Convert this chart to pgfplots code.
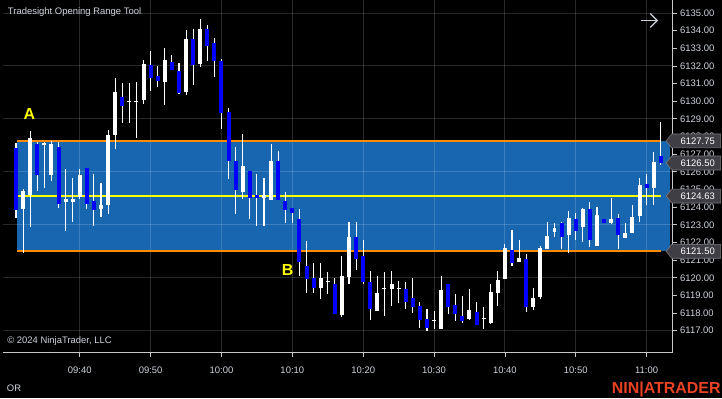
\documentclass[border=0pt]{standalone}
\usepackage{pgfplots}
\pgfplotsset{compat=1.18}
\usepackage{pgfplotstable}
\usepackage{fontspec}
\setmainfont{Liberation Sans}

\definecolor{boxblue}{RGB}{24,102,176}
\definecolor{downblue}{RGB}{0,0,255}
\definecolor{orline}{RGB}{255,140,0}
\definecolor{midline}{RGB}{255,255,0}
\definecolor{axisgray}{RGB}{200,200,200}
\definecolor{labelgray}{RGB}{205,210,220}
\definecolor{tagfill}{RGB}{62,62,68}
\definecolor{tagedge}{RGB}{120,120,125}
\definecolor{ntorange}{RGB}{234,67,35}

\newcommand{\ticksize}{\fontsize{9.5}{11}\selectfont}

% 1-minute bars, m = minutes after 09:30
\pgfplotstableread{
m  o        h        l        c
1  6127.44  6127.68  6123.45  6123.96
2  6123.96  6125.16  6121.53  6124.97
3  6124.69  6128.40  6122.94  6127.95
4  6127.64  6127.70  6124.97  6125.93
5  6127.60  6127.75  6125.16  6127.70
6  6125.93  6127.70  6125.42  6127.64
7  6127.44  6127.70  6123.96  6124.18
8  6124.47  6126.20  6122.72  6124.65
9  6124.47  6125.69  6123.22  6124.65
10 6124.69  6126.20  6124.47  6125.91
11 6126.20  6126.20  6123.96  6124.18
12 6124.45  6125.91  6122.94  6123.96
13 6123.96  6125.42  6123.45  6124.16
14 6124.18  6128.40  6123.68  6128.17
15 6128.19  6131.44  6127.46  6130.65
16 6130.43  6131.16  6128.92  6129.94
17 6130.10  6131.16  6128.92  6130.15
18 6130.05  6131.16  6127.96  6130.10
19 6130.16  6132.40  6129.94  6132.18
20 6132.18  6132.91  6130.65  6131.46
21 6131.46  6132.18  6130.94  6131.16
22 6131.16  6133.19  6129.94  6132.40
23 6132.40  6132.69  6131.80  6131.91
24 6131.91  6132.18  6130.43  6130.65
25 6130.65  6134.13  6130.43  6133.65
26 6133.65  6134.13  6130.94  6132.18
27 6132.18  6134.66  6131.91  6134.13
28 6134.13  6134.42  6132.40  6133.19
29 6133.42  6133.65  6131.44  6132.40
30 6132.40  6132.40  6128.42  6129.43
31 6129.43  6129.70  6125.67  6126.67
32 6126.65  6127.44  6123.68  6124.97
33 6124.97  6128.17  6124.45  6126.42
34 6126.20  6126.20  6123.45  6124.67
35 6124.67  6125.91  6122.94  6124.49
36 6124.49  6125.69  6122.94  6124.67
37 6124.45  6127.63  6124.45  6126.65
38 6126.65  6127.16  6124.45  6124.45
39 6124.45  6124.97  6123.21  6123.96
40 6123.96  6123.96  6123.21  6123.68
41 6123.43  6123.96  6120.18  6120.97
42 6120.67  6122.19  6119.22  6119.97
43 6119.97  6120.95  6119.22  6119.44
44 6119.44  6120.95  6118.93  6119.97
45 6119.85  6120.44  6119.22  6119.90
46 6119.71  6119.97  6117.96  6117.96
47 6117.96  6121.40  6117.96  6120.16
48 6120.16  6123.21  6119.71  6122.42
49 6122.42  6123.21  6120.44  6121.19
50 6121.19  6122.19  6119.71  6119.71
51 6119.71  6120.44  6117.67  6118.20
52 6118.20  6120.16  6118.20  6119.22
53 6119.40  6120.44  6117.96  6119.45
54 6119.44  6120.44  6118.43  6119.71
55 6119.45  6119.93  6118.70  6119.50
56 6119.44  6119.71  6118.18  6118.69
57 6118.93  6119.93  6117.96  6118.43
58 6118.43  6118.69  6117.18  6117.67
59 6117.67  6118.18  6116.96  6117.18
60 6117.60  6118.18  6117.18  6117.65
61 6117.18  6120.16  6117.18  6119.44
62 6119.71  6119.71  6117.96  6118.43
63 6118.43  6119.20  6117.67  6117.96
64 6117.96  6118.93  6117.45  6117.67
65 6117.67  6119.44  6117.67  6118.18
66 6118.18  6118.69  6117.45  6117.45
67 6117.80  6118.43  6117.18  6117.85
68 6117.45  6119.71  6117.45  6119.20
69 6119.20  6120.44  6118.43  6119.93
70 6119.93  6121.91  6119.93  6121.68
71 6121.68  6122.70  6120.68  6120.95
72 6120.95  6122.19  6120.95  6121.19
73 6121.19  6121.42  6118.18  6118.43
74 6118.43  6119.44  6118.18  6118.93
75 6118.93  6121.91  6118.93  6121.68
76 6121.68  6123.21  6121.68  6122.42
77 6122.72  6123.21  6122.42  6122.92
78 6123.21  6123.21  6121.72  6122.42
79 6122.42  6123.94  6121.53  6123.43
80 6123.43  6123.69  6122.19  6122.72
81 6122.92  6124.16  6122.20  6123.94
82 6123.94  6124.45  6121.91  6122.19
83 6121.91  6124.16  6121.91  6123.66
84 6123.43  6123.45  6123.20  6123.21
85 6123.21  6124.67  6123.21  6123.43
86 6123.43  6123.69  6121.72  6122.42
87 6122.42  6123.21  6122.42  6122.72
88 6122.72  6124.16  6122.72  6123.66
89 6123.66  6125.69  6123.21  6125.41
90 6125.41  6125.95  6124.16  6125.18
91 6125.18  6127.16  6124.16  6126.65
92 6126.95  6128.91  6126.50  6126.50
}\candles

\newcommand{\pricetag}[2]{%
  \begin{scope}[shift={(#1)}]
    \filldraw[fill=tagfill, draw=tagedge, line width=0.6pt]
      (-6pt,0) -- (-0.5pt,7pt) -- (48.6pt,7pt) -- (48.6pt,-7pt) -- (-0.5pt,-7pt) -- cycle;
    \node[anchor=west, inner sep=0pt, text=white, font=\ticksize] at (8.3pt,0) {#2};
  \end{scope}}

\begin{document}
\pagecolor{black}
\begin{tikzpicture}
\begin{axis}[
    set layers,
    at={(0pt,46pt)}, anchor=south west,
    scale only axis, width=672pt, height=354pt,
    xmin=-0.868, xmax=93.61,
    ymin=6115.759, ymax=6135.734,
    axis x line*=bottom, axis y line*=right,
    axis line style={draw=axisgray, line width=0.8pt, -},
    tick align=outside,
    major tick length=4.5pt,
    tick style={draw=axisgray, line width=0.8pt},
    xtick={10,20,...,90},
    xticklabels={09:40,09:50,10:00,10:10,10:20,10:30,10:40,10:50,11:00},
    xmajorgrids=true,
    ytick={6117,6118,...,6135},
    extra y ticks={6117,6120,...,6135},
    extra y tick labels={},
    extra y tick style={grid=major},
    major grid style={draw=white, opacity=0.16, line width=0.9pt},
    /pgf/number format/assume math mode=true,
    xticklabel style={text=labelgray, font=\ticksize, yshift=-6pt},
    yticklabel style={text=labelgray, font=\ticksize,
        /pgf/number format/.cd, fixed, fixed zerofill, precision=2, 1000 sep={}},
]
% opening range box
\addplot[on layer=axis background, fill=boxblue, draw=none]
    coordinates {(1.2,6121.5) (93.26,6121.5) (93.26,6127.75) (1.2,6127.75)};
\addplot[orline, line width=2pt] coordinates {(1.2,6127.75) (92,6127.75)};
\addplot[orline, line width=2pt] coordinates {(1.2,6121.5) (92,6121.5)};
\addplot[midline, line width=2pt] coordinates {(1.2,6124.63) (92,6124.63)};

% wicks
\addplot[draw=none, mark=none, error bars/.cd, y dir=both, y explicit, error mark=none,
    error bar style={draw=white, line width=1.1pt}]
    table[x=m, y expr={(\thisrow{h}+\thisrow{l})/2}, y error expr={(\thisrow{h}-\thisrow{l})/2}] {\candles};
% up bodies
\addplot[draw=none, mark=none, x filter/.expression={\thisrow{c}>=\thisrow{o} ? x : nan},
    error bars/.cd, y dir=both, y explicit, error mark=none,
    error bar style={draw=white, line width=4pt}]
    table[x=m, y expr={(\thisrow{o}+\thisrow{c})/2}, y error expr={max(abs(\thisrow{c}-\thisrow{o})/2,0.03)}] {\candles};
% down bodies
\addplot[draw=none, mark=none, x filter/.expression={\thisrow{c}<\thisrow{o} ? x : nan},
    error bars/.cd, y dir=both, y explicit, error mark=none,
    error bar style={draw=downblue, line width=4pt}]
    table[x=m, y expr={(\thisrow{o}+\thisrow{c})/2}, y error expr={max(abs(\thisrow{c}-\thisrow{o})/2,0.03)}] {\candles};

\node[text=midline, font=\fontsize{16}{18}\selectfont\bfseries] at (axis cs:2.89,6129.30) {A};
\node[text=midline, font=\fontsize{16}{18}\selectfont\bfseries] at (axis cs:39.34,6120.44) {B};

\coordinate (t1) at (axis cs:93.61,6127.75);
\coordinate (t2) at (axis cs:93.61,6126.50);
\coordinate (t3) at (axis cs:93.61,6124.63);
\coordinate (t4) at (axis cs:93.61,6121.50);
\end{axis}

\pricetag{t1}{6127.75}
\pricetag{t2}{6126.50}
\pricetag{t3}{6124.63}
\pricetag{t4}{6121.50}

\node[anchor=base west, inner sep=0pt, text=labelgray, font=\ticksize] at (5pt,385.8pt) {Tradesight Opening Range Tool};
\node[anchor=base west, inner sep=0pt, text=labelgray, font=\ticksize] at (4.3pt,55.3pt) {© 2024 NinjaTrader, LLC};
\node[anchor=base west, inner sep=0pt, text=labelgray, font=\ticksize] at (4pt,6.7pt) {OR};
\node[anchor=base east, inner sep=0pt, text=ntorange, font=\fontsize{16}{18}\selectfont\bfseries] at (720.8pt,5pt) {NIN|ATRADER};
\draw[labelgray, line width=1.2pt] (641pt,379.5pt) -- (657pt,379.5pt);
\draw[labelgray, line width=1.2pt] (650pt,386.5pt) -- (657pt,379.5pt) -- (650pt,372.5pt);

\pgfresetboundingbox
\path[use as bounding box] (0,0) rectangle (722pt,400pt);
\end{tikzpicture}
\end{document}
